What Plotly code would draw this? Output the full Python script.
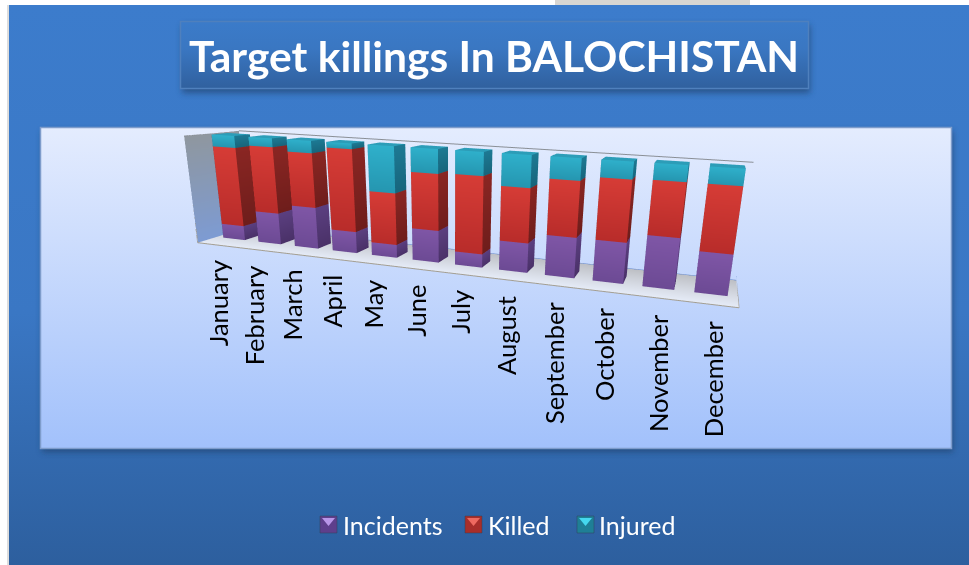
import base64
import plotly.graph_objects as go

months = ["January","February","March","April","May","June","July","August","September","October","November","December"]
incidents = [14,30,39,20,12,29,12,26,35,35,43,34]
killed    = [75,62,50,75,47,50,68,47,47,51,44,53]
injured   = [11,8,11,5,41,21,20,27,18,14,13,13]
series_names = ["Incidents","Killed","Injured"]

W, H = 969, 565
SHEAR = 0.37
TILT = 1.25
XR = [-0.5, 11.87]
BAR_HALF = 0.31
Y0, Y1 = 0.35, 0.65

def sx(x, y):
    return x + SHEAR * y

def sz(x, z):
    return z - TILT * (x - 5.5)

def box(x, z0, z1, front_top, front_bot, side_top, side_bot, top):
    X, Y, Z, I, J, K, C = [], [], [], [], [], [], []
    def quad(pts, cols):
        n = len(X)
        for (a, b, c), col in zip(pts, cols):
            X.append(sx(a, b)); Y.append(b); Z.append(sz(a, c)); C.append(col)
        I.extend([n, n]); J.extend([n + 1, n + 2]); K.extend([n + 2, n + 3])
    l, r = x - BAR_HALF, x + BAR_HALF
    quad([(l,Y0,z0),(r,Y0,z0),(r,Y0,z1),(l,Y0,z1)], [front_bot,front_bot,front_top,front_top])
    quad([(r,Y0,z0),(r,Y1,z0),(r,Y1,z1),(r,Y0,z1)], [side_bot,side_bot,side_top,side_top])
    quad([(l,Y0,z0),(l,Y1,z0),(l,Y1,z1),(l,Y0,z1)], [side_bot,side_bot,side_top,side_top])
    quad([(l,Y0,z1),(r,Y0,z1),(r,Y1,z1),(l,Y1,z1)], [top]*4)
    return X, Y, Z, I, J, K, C

palette = {
    "Incidents": ("#7F56A6", "#6C4A94", "#5B3F80", "#4A3168", "#8A63B0"),
    "Killed":    ("#D63C36", "#B82C2A", "#8A2623", "#6E1D1B", "#D63C36"),
    "Injured":   ("#2FB0CB", "#2596B0", "#1D7A94", "#17657C", "#2C9DB8"),
}

fig = go.Figure()
LIGHT = dict(ambient=1, diffuse=0, specular=0, roughness=1, fresnel=0)

fx = [sx(-0.5,0), sx(-0.5,1), sx(-0.5,1), sx(-0.5,0)]
fig.add_trace(go.Mesh3d(x=fx, y=[0,1,1,0], z=[sz(-0.5,0),sz(-0.5,0),sz(-0.5,100),sz(-0.5,100)], i=[0,0], j=[1,2], k=[2,3],
                        vertexcolor=["#7D9BD3","#7D9BD3","#8F979F","#8F979F"],
                        lighting=LIGHT, hoverinfo="skip", showscale=False))
flx = [sx(-0.5,0), sx(11.5,0), sx(11.5,1), sx(-0.5,1)]
fig.add_trace(go.Mesh3d(x=flx, y=[0,0,1,1], z=[sz(-0.5,0),sz(11.5,0),sz(11.5,0),sz(-0.5,0)], i=[0,0], j=[1,2], k=[2,3],
                        vertexcolor=["#E6ECF8","#E6ECF8","#BDBFC4","#BDBFC4"],
                        lighting=LIGHT, hoverinfo="skip", showscale=False))

stack = [0.0] * len(months)
for name, vals in zip(series_names, [incidents, killed, injured]):
    ft, fb, st, sb, tp = palette[name]
    X, Y, Z, I, J, K, C = [], [], [], [], [], [], []
    for m, v in enumerate(vals):
        bx = box(m, stack[m], stack[m] + v, ft, fb, st, sb, tp)
        off = len(X)
        X += bx[0]; Y += bx[1]; Z += bx[2]
        I += [a + off for a in bx[3]]; J += [a + off for a in bx[4]]; K += [a + off for a in bx[5]]
        C += bx[6]
        stack[m] += v
    fig.add_trace(go.Mesh3d(x=X, y=Y, z=Z, i=I, j=J, k=K, vertexcolor=C, name=name,
                            lighting=LIGHT, hoverinfo="skip", showscale=False))

def line(pts, color, width=2):
    fig.add_trace(go.Scatter3d(x=[sx(p[0],p[1]) for p in pts], y=[p[1] for p in pts], z=[sz(p[0],p[2]) for p in pts],
                               mode="lines", line=dict(color=color, width=width),
                               hoverinfo="skip", showlegend=False))

line([(-0.5,0,100),(-0.5,1,100),(11.5,1,100)], "#8A8F96")
line([(-0.5,0,100),(-0.5,0,0),(11.5,0,0),(11.5,1,0)], "#A39E92")
line([(-0.5,1,0),(11.5,1,0)], "#6F8FCC")
line([(11.5,1,0),(11.5,1,100)], "#6F8FCC")

scene_annotations = [dict(x=sx(m,0), y=0, z=sz(m,0), text=t, textangle=-90, showarrow=False,
                          xanchor="center", yanchor="top", yshift=-14, xshift=2,
                          font=dict(family="Lato", size=25.5, color="black"))
                     for m, t in enumerate(months)]

cx, cy_px, sh = 451.5, 206.0, 410.0
fig.update_layout(
    width=W, height=H, margin=dict(l=0, r=0, t=0, b=0), autosize=False,
    paper_bgcolor="white", showlegend=False,
    scene=dict(
        domain=dict(x=[0, 2*cx/W], y=[1 - (cy_px + sh/2)/H, 1 - (cy_px - sh/2)/H]),
        bgcolor="rgba(0,0,0,0)",
        xaxis=dict(visible=False, range=XR),
        yaxis=dict(visible=False, range=[0, 1]),
        zaxis=dict(visible=False, range=[-7.5, 107.5]),
        aspectmode="manual",
        aspectratio=dict(x=3.34, y=0.4, z=0.803),
        camera=dict(eye=dict(x=0.68, y=-2.83, z=0.715), center=dict(x=0, y=0, z=0), up=dict(x=-0.03, y=0, z=1),
                    projection=dict(type="perspective")),
        annotations=scene_annotations,
    ),
)

svg = f'''<svg xmlns="http://www.w3.org/2000/svg" width="{W}" height="{H}" viewBox="0 0 {W} {H}">
<defs>
<linearGradient id="s" x1="0" y1="0" x2="0" y2="1"><stop offset="0" stop-color="#3C7CCC"/><stop offset="0.55" stop-color="#3A77C4"/><stop offset="1" stop-color="#2D5F9E"/></linearGradient>
<linearGradient id="t" x1="0" y1="0" x2="0" y2="1"><stop offset="0" stop-color="#3B7BC9"/><stop offset="0.4" stop-color="#3A77C2"/><stop offset="1" stop-color="#30609E"/></linearGradient>
<linearGradient id="p" x1="0" y1="0" x2="0" y2="1"><stop offset="0" stop-color="#E4ECFE"/><stop offset="1" stop-color="#A2C1FB"/></linearGradient>
<filter id="b" x="-5%" y="-20%" width="110%" height="140%"><feGaussianBlur stdDeviation="3"/></filter>
</defs>
<rect width="{W}" height="{H}" fill="#ffffff"/>
<rect x="555" y="0" width="195" height="6" fill="#D8D6D2"/>
<rect x="7" y="5" width="3" height="{H}" fill="#DDDDDD"/>
<rect x="9" y="5" width="{W-9}" height="{H-5}" fill="url(#s)"/>
<rect x="182" y="25" width="628" height="68" fill="#1D3A60" opacity="0.6" filter="url(#b)"/>
<rect x="180.5" y="21.5" width="628" height="67" fill="url(#t)" stroke="#4F80BD" stroke-width="1.5"/>
<rect x="42" y="131" width="911" height="321" fill="#1D3A60" opacity="0.6" filter="url(#b)"/>
<rect x="40.5" y="127.5" width="911" height="321" fill="url(#p)" stroke="#7E9CCB" stroke-width="1.5"/>
</svg>'''
uri = "data:image/svg+xml;base64," + base64.b64encode(svg.encode()).decode()
fig.add_layout_image(dict(source=uri, xref="paper", yref="paper", x=0, y=1, sizex=1, sizey=1,
                          xanchor="left", yanchor="top", sizing="stretch", layer="below"))

def px(x): return x / W
def py(y): return 1 - y / H

fig.add_annotation(x=px(494), y=py(55), xref="paper", yref="paper", text="<b>Target killings In BALOCHISTAN</b>",
                   showarrow=False, font=dict(family="Lato", size=42.5, color="white"), xanchor="center", yanchor="middle")

legend_x = [320, 465, 577]
legend_text_x = [341, 486, 597]
swatch = [("#5E3F8C", "#B896E8"), ("#A82E2A", "#EE6A60"), ("#1F7F96", "#45D8EE")]
for name, lx, tx, (dark, light) in zip(series_names, legend_x, legend_text_x, swatch):
    fig.add_shape(type="rect", xref="paper", yref="paper", x0=px(lx), x1=px(lx+17), y0=py(516), y1=py(533),
                  fillcolor=dark, line=dict(width=0.5, color="#33405A"), layer="above")
    fig.add_shape(type="path", xref="paper", yref="paper", layer="above",
                  path=f"M {px(lx+2)} {py(518)} L {px(lx+15)} {py(518)} L {px(lx+8.5)} {py(526)} Z",
                  fillcolor=light, line=dict(width=0))
    fig.add_annotation(x=px(tx), y=py(525), xref="paper", yref="paper", text=name, showarrow=False,
                       xanchor="left", yanchor="middle", font=dict(family="Lato", size=25, color="white"))

fig.write_html("out.html", config=dict(displayModeBar=False),
               post_script="document.body.style.margin='0';document.body.style.overflow='hidden';window.dispatchEvent(new Event('resize'));")
